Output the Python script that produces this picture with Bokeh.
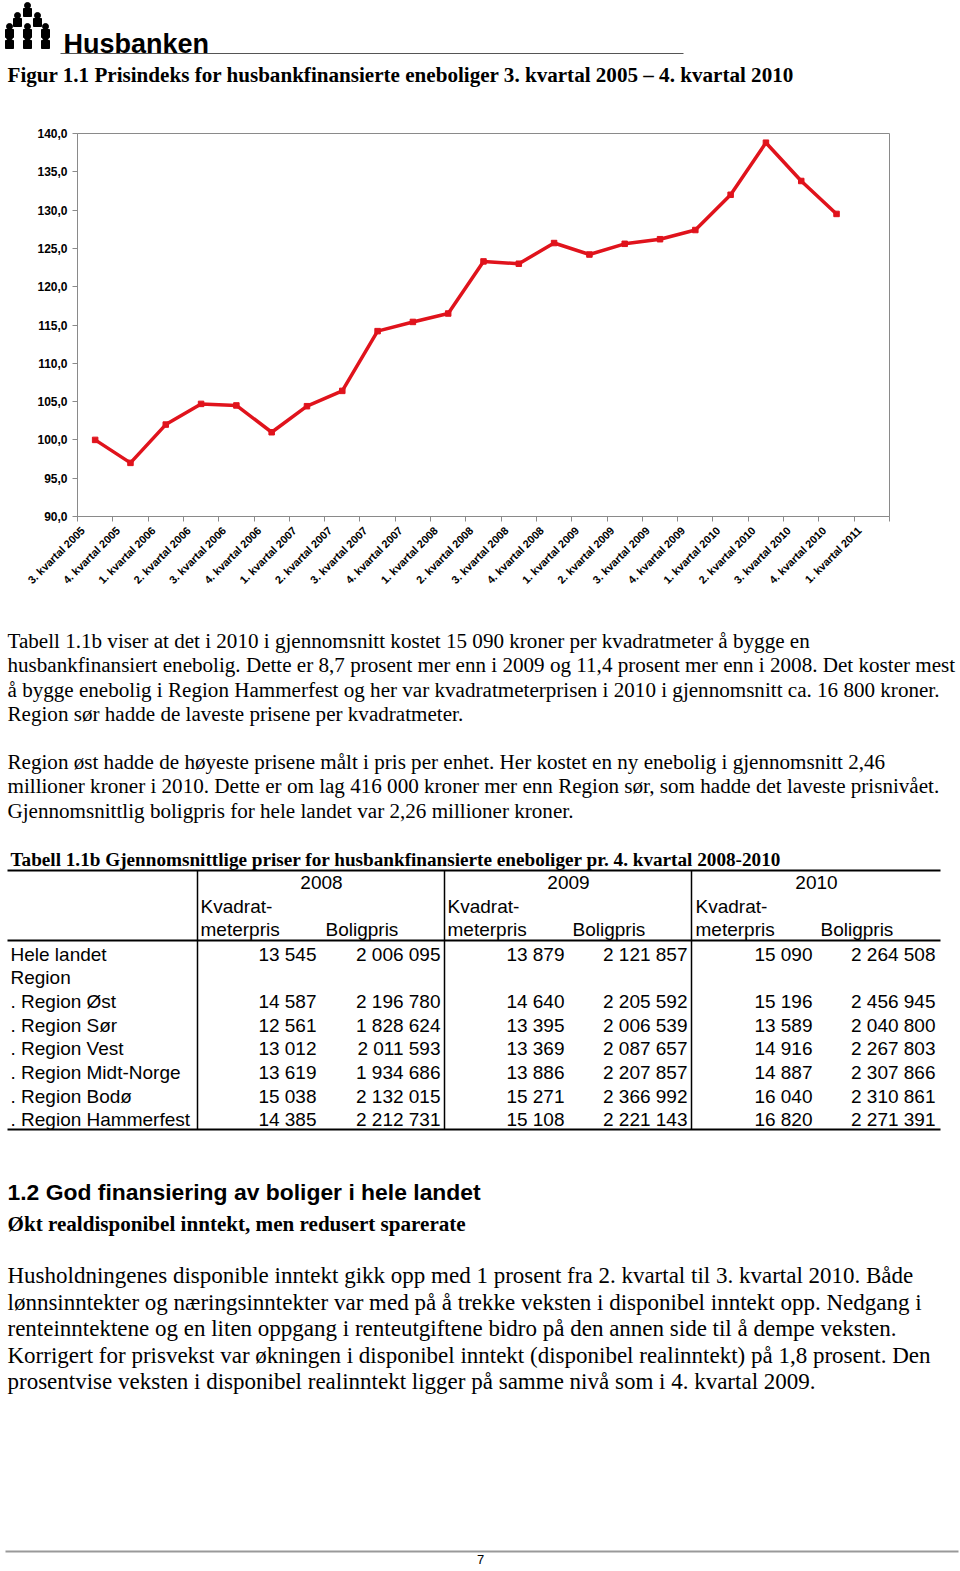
import numpy as np
from bokeh.plotting import figure
from bokeh.layouts import column
from bokeh.models import Range1d, FixedTicker, CustomJSTickFormatter, ColumnDataSource
from bokeh.core.properties import value
from bokeh.embed import file_html
from bokeh.resources import INLINE

# ---------------- data ----------------
quarters = ["3. kvartal 2005", "4. kvartal 2005", "1. kvartal 2006", "2. kvartal 2006",
            "3. kvartal 2006", "4. kvartal 2006", "1. kvartal 2007", "2. kvartal 2007",
            "3. kvartal 2007", "4. kvartal 2007", "1. kvartal 2008", "2. kvartal 2008",
            "3. kvartal 2008", "4. kvartal 2008", "1. kvartal 2009", "2. kvartal 2009",
            "3. kvartal 2009", "4. kvartal 2009", "1. kvartal 2010", "2. kvartal 2010",
            "3. kvartal 2010", "4. kvartal 2010", "1. kvartal 2011"]
price_index = [100.0, 97.0, 102.0, 104.7, 104.5, 101.0, 104.4, 106.4, 114.2, 115.4, 116.5,
               123.3, 123.0, 125.7, 124.2, 125.6, 126.2, 127.4, 132.0, 138.8, 133.8, 129.5]
y_ticks = [90, 95, 100, 105, 110, 115, 120, 125, 130, 135, 140]

table_rows = ["Hele landet", "Region", ". Region Øst", ". Region Sør", ". Region Vest",
              ". Region Midt-Norge", ". Region Bodø", ". Region Hammerfest"]
table_years = ["2008", "2009", "2010"]
kvm_2008 = [13545, None, 14587, 12561, 13012, 13619, 15038, 14385]
bolig_2008 = [2006095, None, 2196780, 1828624, 2011593, 1934686, 2132015, 2212731]
kvm_2009 = [13879, None, 14640, 13395, 13369, 13886, 15271, 15108]
bolig_2009 = [2121857, None, 2205592, 2006539, 2087657, 2207857, 2366992, 2221143]
kvm_2010 = [15090, None, 15196, 13589, 14916, 14887, 16040, 16820]
bolig_2010 = [2264508, None, 2456945, 2040800, 2267803, 2307866, 2310861, 2271391]

title_text = "Figur 1.1 Prisindeks for husbankfinansierte eneboliger 3. kvartal 2005 \u2013 4. kvartal 2010"
para1 = ["Tabell 1.1b viser at det i 2010 i gjennomsnitt kostet 15 090 kroner per kvadratmeter å bygge en",
         "husbankfinansiert enebolig. Dette er 8,7 prosent mer enn i 2009 og 11,4 prosent mer enn i 2008. Det koster mest",
         "å bygge enebolig i Region Hammerfest og her var kvadratmeterprisen i 2010 i gjennomsnitt ca. 16 800 kroner.",
         "Region sør hadde de laveste prisene per kvadratmeter."]
para2 = ["Region øst hadde de høyeste prisene målt i pris per enhet. Her kostet en ny enebolig i gjennomsnitt 2,46",
         "millioner kroner i 2010. Dette er om lag 416 000 kroner mer enn Region sør, som hadde det laveste prisnivået.",
         "Gjennomsnittlig boligpris for hele landet var 2,26 millioner kroner."]
table_title = "Tabell 1.1b Gjennomsnittlige priser for husbankfinansierte eneboliger pr. 4. kvartal 2008-2010"
heading = "1.2 God finansiering av boliger i hele landet"
subheading = "Økt realdisponibel inntekt, men redusert sparerate"
para3 = ["Husholdningenes disponible inntekt gikk opp med 1 prosent fra 2. kvartal til 3. kvartal 2010. Både",
         "lønnsinntekter og næringsinntekter var med på å trekke veksten i disponibel inntekt opp. Nedgang i",
         "renteinntektene og en liten oppgang i renteutgiftene bidro på den annen side til å dempe veksten.",
         "Korrigert for prisvekst var økningen i disponibel inntekt (disponibel realinntekt) på 1,8 prosent. Den",
         "prosentvise veksten i disponibel realinntekt ligger på samme nivå som i 4. kvartal 2009."]

SERIF = "Liberation Serif"
SANS = "Liberation Sans"
RED = "#e0131c"
GRAY = "#8a8a8a"
W = 960


def canvas(height, y_top, y_bottom):
    f = figure(width=W, height=height, x_range=Range1d(0, W), y_range=Range1d(y_bottom, y_top),
               output_backend="svg", toolbar_location=None, min_border=0)
    f.axis.visible = False
    f.grid.visible = False
    f.outline_line_color = None
    f.background_fill_color = "white"
    f.border_fill_color = "white"
    f.frame_align = False
    return f


def put(f, xs, ys, texts, font, size, style="normal", align="left", color="black"):
    src = ColumnDataSource(dict(x=xs, y=ys, t=texts))
    f.text(x="x", y="y", text="t", source=src, text_font=value(font), text_font_size=size,
           text_font_style=style, text_align=align, text_baseline="alphabetic", text_color=color)


# ---------------- header (page y 0..100) ----------------
head = canvas(100, 0, 100)
lx = [27, 17, 37, 9, 27, 45, 9, 27, 45]
ly = [10, 20, 20, 31, 31, 31, 42, 42, 42]
head.scatter(lx, [y - 5 for y in ly], marker="circle", size=6, color="black")
head.scatter(lx, [y + 2 for y in ly], marker="square", size=8, color="black")
put(head, [63], [43], ["Husbanken"], SANS, "27px", "bold")
head.segment(x0=[60], y0=[53], x1=[683], y1=[53], line_color="#555555", line_width=1)
put(head, [7], [74], [title_text], SERIF, "21.1px", "bold")

# ---------------- chart (page y 100..600) ----------------
chart = figure(width=W, height=500, x_range=Range1d(0, len(quarters)), y_range=Range1d(90, 140),
               output_backend="svg", toolbar_location=None,
               min_border_left=77, min_border_right=71, min_border_top=33, min_border_bottom=84)
chart.frame_align = False
chart.grid.visible = False
chart.outline_line_color = GRAY
chart.outline_line_width = 1
chart.background_fill_color = "white"
chart.border_fill_color = "white"

x_pos = np.arange(len(price_index)) + 0.5
chart.line(x_pos, price_index, line_color=RED, line_width=3.5)
chart.scatter(x_pos, price_index, marker="square", size=5.5, color=RED)

xa = chart.xaxis[0]
xa.ticker = FixedTicker(ticks=[i + 0.15 for i in range(len(quarters))],
                        minor_ticks=list(range(len(quarters) + 1)))
xa.formatter = CustomJSTickFormatter(args=dict(labels=quarters),
                                     code="return labels[Math.floor(tick)] || '';")
xa.major_label_orientation = np.pi / 4
xa.major_tick_line_color = None
xa.major_tick_out = 0
xa.minor_tick_out = 5
xa.minor_tick_in = 0
xa.minor_tick_line_color = GRAY
xa.axis_line_color = GRAY
xa.major_label_standoff = 7
xa.major_label_text_font_size = "11px"

ya = chart.yaxis[0]
ya.ticker = FixedTicker(ticks=y_ticks)
ya.formatter = CustomJSTickFormatter(code="return tick.toFixed(1).replace('.', ',');")
ya.major_tick_out = 5
ya.major_tick_in = 0
ya.minor_tick_line_color = None
ya.major_tick_line_color = GRAY
ya.axis_line_color = GRAY
ya.major_label_standoff = 5
ya.major_label_text_font_size = "12px"

for ax in (xa, ya):
    ax.major_label_text_font = SANS
    ax.major_label_text_font_style = "bold"
    ax.major_label_text_color = "black"

# ---------------- body (page y 600..1571) ----------------
body = canvas(971, 600, 1571)

put(body, [7] * 4, [640, 664, 689, 713], para1, SERIF, "21.1px")
put(body, [7] * 3, [761, 785, 810], para2, SERIF, "21.1px")
put(body, [10], [859], [table_title], SERIF, "19.2px", "bold")

# table rules
body.segment(x0=[7, 7, 7], y0=[870, 940, 1129], x1=[940, 940, 940], y1=[870, 940, 1129],
             line_color="black", line_width=2)
body.segment(x0=[197, 444, 691], y0=[870] * 3, x1=[197, 444, 691], y1=[1129] * 3,
             line_color="black", line_width=1.5)

TF = "19px"
row_y = [954, 977, 1001, 1025, 1048, 1072, 1096, 1119]
put(body, [10] * len(table_rows), row_y, table_rows, SANS, TF)


def fmt(v):
    return "" if v is None else f"{v:,}".replace(",", " ")


group_left = [200, 447, 695]
year_center = [321, 568, 816]
kvm_right = [316, 564, 812]
bolig_right = [440, 687, 935]
bolig_left = [325, 572, 820]
put(body, year_center, [882] * 3, table_years, SANS, TF, align="center")
put(body, group_left, [906] * 3, ["Kvadrat-"] * 3, SANS, TF)
put(body, group_left, [929] * 3, ["meterpris"] * 3, SANS, TF)
put(body, bolig_left, [929] * 3, ["Boligpris"] * 3, SANS, TF)
for k, (kv, bo) in enumerate([(kvm_2008, bolig_2008), (kvm_2009, bolig_2009), (kvm_2010, bolig_2010)]):
    put(body, [kvm_right[k]] * len(kv), row_y, [fmt(v) for v in kv], SANS, TF, align="right")
    put(body, [bolig_right[k]] * len(bo), row_y, [fmt(v) for v in bo], SANS, TF, align="right")

put(body, [7], [1191], [heading], SANS, "22.9px", "bold")
put(body, [7], [1223], [subheading], SERIF, "21.1px", "bold")
put(body, [7] * 5, [1275, 1302, 1328, 1355, 1381], para3, SERIF, "23px")

body.segment(x0=[5], y0=[1551], x1=[958], y1=[1551], line_color="#999999", line_width=2)
put(body, [480], [1559], ["7"], SANS, "13px", align="center")

layout = column(head, chart, body, spacing=0)
open("out.html", "w").write(file_html(layout, INLINE))
